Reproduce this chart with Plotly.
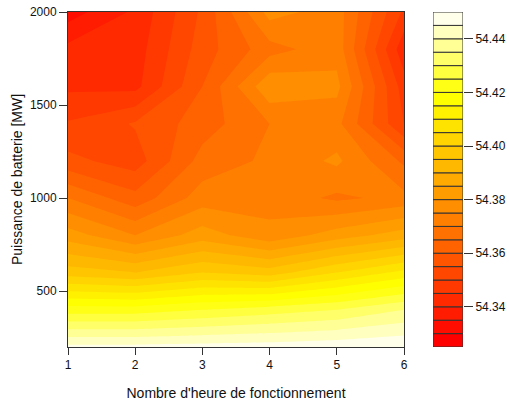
import colorsys
import plotly.graph_objects as go

# --- data -------------------------------------------------------------
hours = [1, 2, 3, 4, 5, 6]
power = [200, 400, 600, 800, 1000, 1200, 1400, 1600, 1800, 2000]
base_val = 54.325
step = 0.005
# band index (value = 54.325 + 0.005*band), rows follow `power`, columns follow `hours`
band_rows = [
    [24.3, 24.3, 24.4, 24.5, 24.7, 24.9],   # 200
    [19.5, 19.5, 20.0, 20.5, 21.0, 22.0],   # 400
    [14.5, 14.0, 15.0, 14.5, 16.0, 17.3],   # 600
    [11.5, 10.0, 11.5, 10.3, 11.5, 12.5],   # 800
    [9.0, 7.35, 9.5, 9.6, 8.8, 9.3],        # 1000
    [6.3, 5.5, 8.4, 9.2, 10.2, 7.8],        # 1200
    [5.1, 6.1, 7.5, 9.0, 9.3, 5.0],         # 1400
    [3.8, 3.7, 7.0, 10.8, 10.3, 4.5],       # 1600
    [3.3, 3.5, 6.5, 8.6, 9.6, 3.3],         # 1800
    [1.5, 3.2, 6.2, 10.4, 9.5, 4.8],        # 2000
]
z = [[round(base_val + step * b, 5) for b in row] for row in band_rows]

levels = [round(base_val + step * i, 3) for i in range(26)]  # 54.325 .. 54.45
key_ticks = [54.34, 54.36, 54.38, 54.40, 54.42, 54.44]

# R heat.colors(25)
def heat_colors(n):
    j = n // 4
    i = n - j
    cols = []
    for k in range(i):
        h = (k / (i - 1)) * (1 / 6)
        cols.append(colorsys.hsv_to_rgb(h, 1, 1))
    for k in range(j):
        s = (1 - 1 / (2 * j)) + k * ((1 / (2 * j)) - (1 - 1 / (2 * j))) / (j - 1)
        cols.append(colorsys.hsv_to_rgb(1 / 6, s, 1))
    return ["rgb(%d,%d,%d)" % tuple(round(c * 255) for c in rgb) for rgb in cols]

nb = len(levels) - 1
colors = heat_colors(nb)

# stepwise colorscale so each filled region gets exactly its colour
cs = []
for k, c in enumerate(colors):
    lo = max(0.0, (k - 0.5) / (nb - 1))
    hi = min(1.0, (k + 0.5) / (nb - 1))
    cs.append([lo, c])
    cs.append([hi, c])

fig = go.Figure()
fig.add_trace(go.Contour(
    x=hours, y=power, z=z,
    colorscale=cs, showscale=False,
    contours=dict(start=levels[1], end=levels[-2], size=step, coloring="fill", showlines=False),
    line=dict(width=0, smoothing=0),
    xaxis="x", yaxis="y",
    hoverinfo="skip",
))

# colour key drawn as stacked bars
fig.add_trace(go.Bar(
    x=[0.5] * nb, y=[step] * nb, base=levels[:-1], width=1,
    marker=dict(color=colors, line=dict(color="#333333", width=1)),
    xaxis="x2", yaxis="y2", showlegend=False, hoverinfo="skip",
))

W, H = 509, 401
ml, mr, mt, mb = 68, 46, 12, 54
pw = W - ml - mr
fnt = dict(family="Liberation Sans, Arial, sans-serif", size=12, color="#111111")

fig.update_layout(
    width=W, height=H,
    margin=dict(l=ml, r=mr, t=mt, b=mb, autoexpand=False),
    paper_bgcolor="white", plot_bgcolor="white",
    font=fnt,
    showlegend=False,
    barmode="overlay",
    xaxis=dict(domain=[0, 336 / pw], range=[1, 6], tickvals=hours, ticks="outside", ticklen=7,
               tickcolor="#333333", showline=True, mirror=True, linecolor="#333333", linewidth=1,
               showgrid=False, zeroline=False, automargin=False,
               title=dict(text="Nombre d'heure de fonctionnement", standoff=18)),
    yaxis=dict(domain=[0, 1], range=[200, 2000], tickvals=[500, 1000, 1500, 2000], ticks="outside",
               ticklen=8, tickcolor="#333333", showline=True, mirror=True, linecolor="#333333",
               linewidth=1, showgrid=False, zeroline=False, automargin=False,
               title=dict(text="Puissance de batterie [MW]", standoff=3)),
    xaxis2=dict(domain=[(433 - ml) / pw, (463 - ml) / pw], range=[0, 1], visible=False,
                anchor="y2", automargin=False),
    yaxis2=dict(domain=[0, 1], range=[levels[0], levels[-1]], anchor="x2", side="right",
                tickvals=key_ticks, ticktext=["%.2f" % t for t in key_ticks],
                ticks="outside", ticklen=9, tickcolor="#333333", showline=False,
                showgrid=False, zeroline=False, automargin=False),
)

fig.write_html("out.html")
